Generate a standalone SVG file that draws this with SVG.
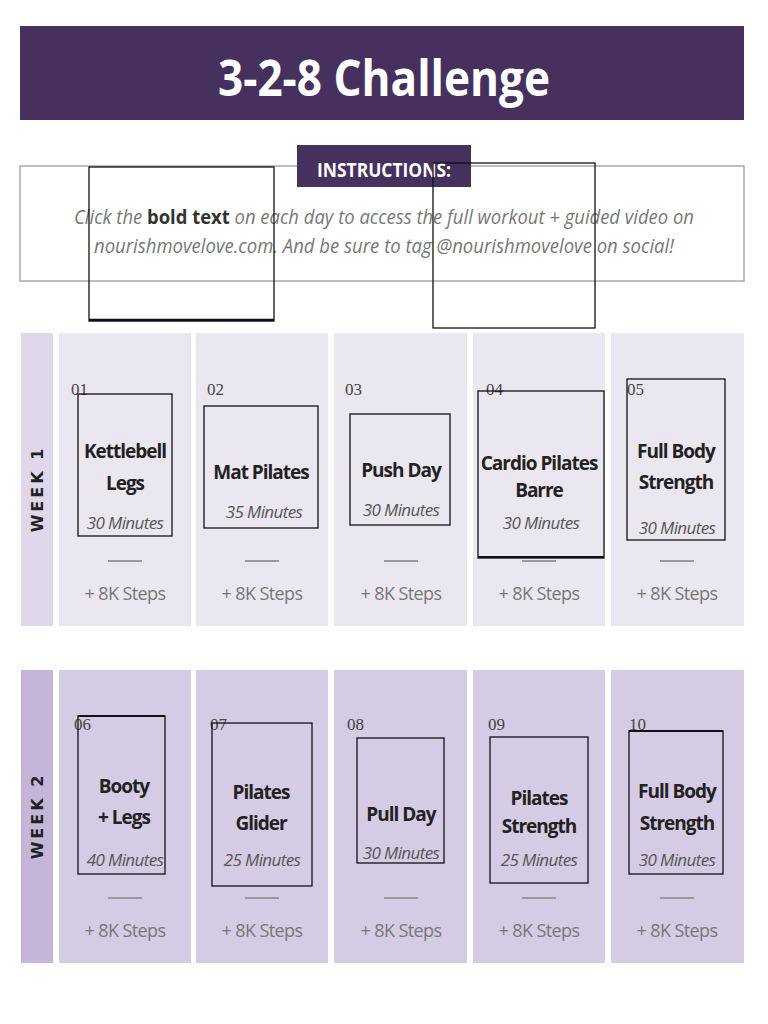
<svg xmlns="http://www.w3.org/2000/svg" width="768" height="1024" viewBox="0 0 768 1024">
<style>
.t{font-family:"Open Sans","Liberation Sans",sans-serif;font-weight:bold;font-size:19px;letter-spacing:-1px;fill:#222;text-anchor:middle}
.m{font-family:"Open Sans","Liberation Sans",sans-serif;font-style:italic;font-size:17px;letter-spacing:-0.6px;fill:#555;text-anchor:middle}
.s{font-family:"Open Sans","Liberation Sans",sans-serif;font-size:18px;letter-spacing:-0.6px;fill:#777;text-anchor:middle}
.n{font-family:"Liberation Serif",serif;font-size:17px;fill:#444}
.b{fill:none;stroke:#111;stroke-width:1.3}
.d{stroke:#999;stroke-width:2}
.c1{fill:#ebe7f0}.c2{fill:#d5cbe4}
.w{font-family:"DejaVu Sans",sans-serif;font-weight:bold;font-size:16px;fill:#222;letter-spacing:3px;text-anchor:middle}
</style>
<rect width="768" height="1024" fill="#fff"/>
<g id="header"><rect x="20" y="26" width="724" height="94" fill="#45305e"/>
<text x="384" y="96" font-family="Open Sans,Liberation Sans,sans-serif" font-weight="bold" font-size="50" fill="#fff" text-anchor="middle" textLength="332" lengthAdjust="spacingAndGlyphs">3-2-8 Challenge</text></g>
<g id="instructions">
<rect x="20" y="166" width="724" height="115" fill="#fff" stroke="#aaa" stroke-width="1.5"/>
<rect x="297" y="145" width="174" height="42" fill="#45305e"/>
<text x="384" y="177" font-family="Open Sans,Liberation Sans,sans-serif" font-weight="bold" font-size="20" fill="#fff" text-anchor="middle" textLength="134" lengthAdjust="spacingAndGlyphs">INSTRUCTIONS:</text>
<text x="384" y="224" font-family="Open Sans,Liberation Sans,sans-serif" font-style="italic" font-size="20" fill="#777" text-anchor="middle" textLength="620" lengthAdjust="spacingAndGlyphs">Click the <tspan font-style="normal" font-weight="bold" fill="#333">bold text</tspan> on each day to access the full workout + guided video on</text>
<text x="384" y="253" font-family="Open Sans,Liberation Sans,sans-serif" font-style="italic" font-size="20" fill="#777" text-anchor="middle" textLength="580" lengthAdjust="spacingAndGlyphs">nourishmovelove.com. And be sure to tag @nourishmovelove on social!</text>
<rect class="b" x="89" y="167" width="185" height="154"/><line x1="89" y1="320" x2="274" y2="320" stroke="#111" stroke-width="2.5"/>
<rect class="b" x="433" y="163" width="162" height="165"/>
</g>
<g id="week1">
<rect x="21" y="333" width="32" height="293" fill="#e0d8ea"/>
<text class="w" transform="translate(43,489) rotate(-90)">WEEK 1</text>
<rect class="c1" x="59" y="333" width="132" height="293"/><rect class="c1" x="196" y="333" width="132" height="293"/><rect class="c1" x="334" y="333" width="133" height="293"/><rect class="c1" x="473" y="333" width="132" height="293"/><rect class="c1" x="611" y="333" width="133" height="293"/>
</g>
<g id="week2">
<rect x="21" y="670" width="32" height="293" fill="#c5b6d9"/>
<text class="w" transform="translate(43,816) rotate(-90)">WEEK 2</text>
<rect class="c2" x="59" y="670" width="132" height="293"/><rect class="c2" x="196" y="670" width="132" height="293"/><rect class="c2" x="334" y="670" width="133" height="293"/><rect class="c2" x="473" y="670" width="132" height="293"/><rect class="c2" x="611" y="670" width="133" height="293"/>
</g>
<g id="day01"><text class="n" x="71" y="395">01</text><rect class="b" x="78" y="394" width="94" height="142"/><text class="t" x="125" y="458">Kettlebell</text><text class="t" x="125" y="490">Legs</text><text class="m" x="125" y="529">30 Minutes</text><line class="d" x1="108" y1="561" x2="142" y2="561"/><text class="s" x="125" y="600">+ 8K Steps</text></g>
<g id="day02"><text class="n" x="207" y="395">02</text><rect class="b" x="204" y="406" width="114" height="122"/><text class="t" x="261" y="479">Mat Pilates</text><text class="m" x="264" y="518">35 Minutes</text><line class="d" x1="245" y1="561" x2="279" y2="561"/><text class="s" x="262" y="600">+ 8K Steps</text></g>
<g id="day03"><text class="n" x="345" y="395">03</text><rect class="b" x="350" y="414" width="100" height="111"/><text class="t" x="401" y="477">Push Day</text><text class="m" x="401" y="516">30 Minutes</text><line class="d" x1="384" y1="561" x2="418" y2="561"/><text class="s" x="401" y="600">+ 8K Steps</text></g>
<g id="day04"><text class="n" x="486" y="395">04</text><rect class="b" x="478" y="391" width="126" height="167"/><line x1="478" y1="557" x2="604" y2="557" stroke="#111" stroke-width="2"/><text class="t" x="539" y="470">Cardio Pilates</text><text class="t" x="539" y="497">Barre</text><text class="m" x="541" y="529">30 Minutes</text><line class="d" x1="522" y1="561" x2="556" y2="561"/><text class="s" x="539" y="600">+ 8K Steps</text></g>
<g id="day05"><text class="n" x="627" y="395">05</text><rect class="b" x="627" y="379" width="98" height="161"/><text class="t" x="676" y="458">Full Body</text><text class="t" x="676" y="489">Strength</text><text class="m" x="677" y="534">30 Minutes</text><line class="d" x1="660" y1="561" x2="694" y2="561"/><text class="s" x="677" y="600">+ 8K Steps</text></g>
<g id="day06"><text class="n" x="74" y="730">06</text><rect class="b" x="78" y="716" width="87" height="158"/><line x1="78" y1="716" x2="165" y2="716" stroke="#111" stroke-width="2"/><text class="t" x="124" y="793">Booty</text><text class="t" x="124" y="824">+ Legs</text><text class="m" x="125" y="866">40 Minutes</text><line class="d" x1="108" y1="898" x2="142" y2="898"/><text class="s" x="125" y="937">+ 8K Steps</text></g>
<g id="day07"><text class="n" x="210" y="730">07</text><rect class="b" x="212" y="723" width="100" height="163"/><text class="t" x="261" y="799">Pilates</text><text class="t" x="261" y="830">Glider</text><text class="m" x="262" y="866">25 Minutes</text><line class="d" x1="245" y1="898" x2="279" y2="898"/><text class="s" x="262" y="937">+ 8K Steps</text></g>
<g id="day08"><text class="n" x="347" y="730">08</text><rect class="b" x="357" y="738" width="87" height="125"/><text class="t" x="401" y="821">Pull Day</text><text class="m" x="401" y="859">30 Minutes</text><line class="d" x1="384" y1="898" x2="418" y2="898"/><text class="s" x="401" y="937">+ 8K Steps</text></g>
<g id="day09"><text class="n" x="488" y="730">09</text><rect class="b" x="490" y="737" width="98" height="146"/><text class="t" x="539" y="805">Pilates</text><text class="t" x="539" y="833">Strength</text><text class="m" x="539" y="866">25 Minutes</text><line class="d" x1="522" y1="898" x2="556" y2="898"/><text class="s" x="539" y="937">+ 8K Steps</text></g>
<g id="day10"><text class="n" x="629" y="730">10</text><rect class="b" x="629" y="731" width="94" height="143"/><line x1="629" y1="731" x2="723" y2="731" stroke="#111" stroke-width="2"/><text class="t" x="677" y="798">Full Body</text><text class="t" x="677" y="830">Strength</text><text class="m" x="677" y="866">30 Minutes</text><line class="d" x1="660" y1="898" x2="694" y2="898"/><text class="s" x="677" y="937">+ 8K Steps</text></g>
<g id="connectors"/>
</svg>
